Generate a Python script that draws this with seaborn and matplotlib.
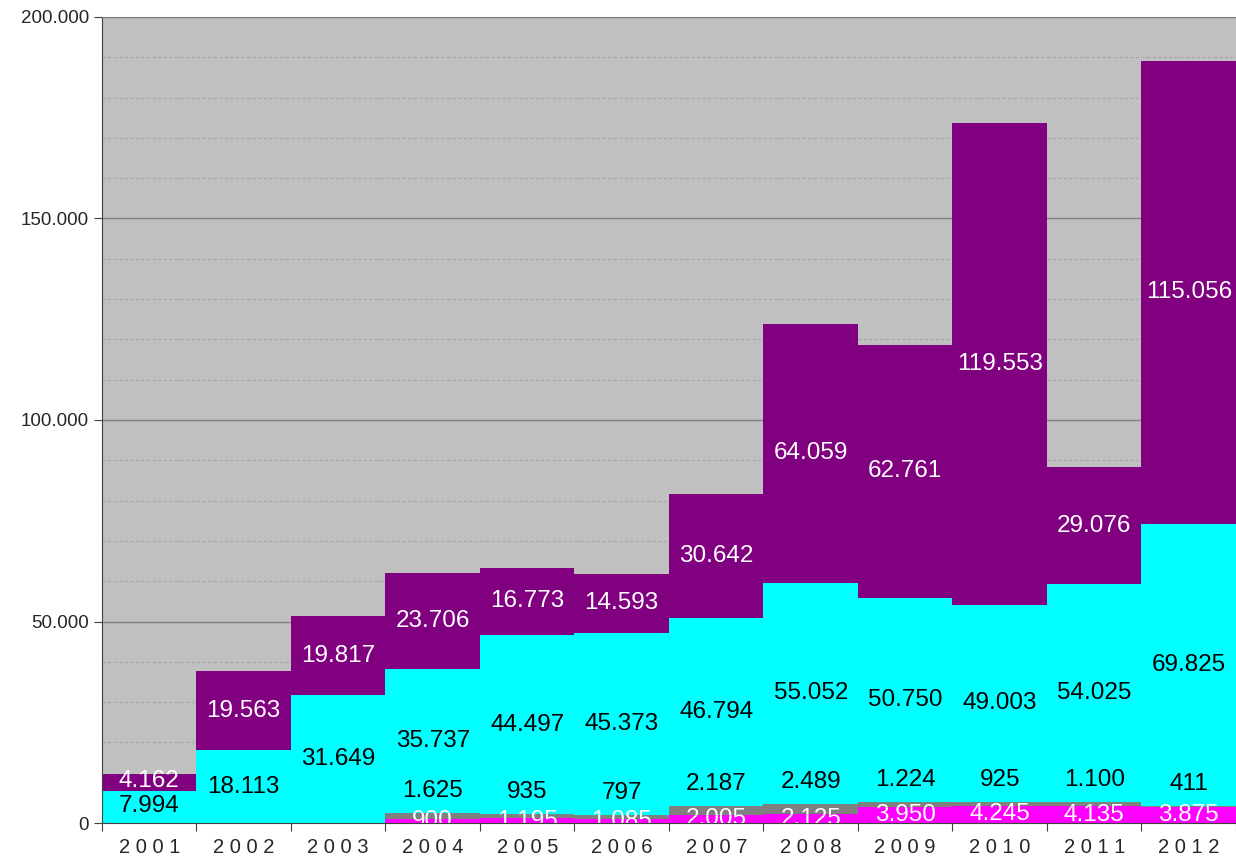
import numpy as np
import pandas as pd
import matplotlib
matplotlib.use("Agg")
import matplotlib.pyplot as plt
import seaborn as sns
from matplotlib.ticker import FuncFormatter, MultipleLocator

sns.set_style("ticks")
plt.rcParams["font.family"] = ["Liberation Sans", "DejaVu Sans"]

# data
years = ["2001", "2002", "2003", "2004", "2005", "2006",
         "2007", "2008", "2009", "2010", "2011", "2012"]
magenta_vals = [0, 0, 0, 900, 1195, 1085, 2005, 2125, 3950, 4245, 4135, 3875]
gray_vals = [0, 0, 0, 1625, 935, 797, 2187, 2489, 1224, 925, 1100, 411]
cyan_vals = [7994, 18113, 31649, 35737, 44497, 45373, 46794, 55052, 50750, 49003, 54025, 69825]
purple_vals = [4162, 19563, 19817, 23706, 16773, 14593, 30642, 64059, 62761, 119553, 29076, 115056]

series = [
    ("magenta", magenta_vals, "#FF00FF", "white"),
    ("gray", gray_vals, "#808080", "black"),
    ("cyan", cyan_vals, "#00FFFF", "black"),
    ("purple", purple_vals, "#800080", "white"),
]

df = pd.DataFrame({"year": years})
bottoms = {}
running = np.zeros(len(years))
for name, vals, _, _ in series:
    bottoms[name] = running.copy()
    running = running + np.array(vals)
    df[name + "_top"] = running

fig = plt.figure(figsize=(12.36, 8.61), dpi=100)
ax = fig.add_axes([0.0825, 0.0441, 0.9175, 0.9362])
ax.set_facecolor("#C0C0C0")

# stacked bars: draw cumulative totals from the top series down
for name, vals, color, _ in reversed(series):
    sns.barplot(data=df, x="year", y=name + "_top", color=color, width=1.0,
                saturation=1, linewidth=0, ax=ax, order=years)

# segment labels
for name, vals, color, tcolor in series:
    for i, v in enumerate(vals):
        if v == 0:
            continue
        if name == "gray":
            ypos = bottoms[name][i] + v + 5500
        elif name == "cyan" and i == 0:
            ypos = 4300
        elif name == "purple" and i == 0:
            ypos = bottoms[name][i] + v / 2 + 300
        else:
            ypos = bottoms[name][i] + v / 2
        ax.text(i, ypos, f"{v:,}".replace(",", "."), color=tcolor, fontsize=17.5,
                ha="center", va="center", clip_on=True)

ax.set_ylim(0, 200000)
ax.set_xlim(-0.5, 11.5)
ax.yaxis.set_major_locator(MultipleLocator(50000))
ax.yaxis.set_minor_locator(MultipleLocator(10000))
ax.yaxis.set_major_formatter(FuncFormatter(lambda v, p: f"{int(v):,}".replace(",", ".")))
ax.tick_params(axis="y", which="minor", length=0)
ax.tick_params(axis="y", which="major", labelsize=13.5, length=6, color="#404040")

ax.set_xticks(np.arange(-0.5, 12, 1))
ax.set_xticklabels([])
ax.set_xticks(np.arange(len(years)), minor=True)
ax.set_xticklabels([" ".join(y) for y in years], minor=True, fontsize=14.5)
ax.tick_params(axis="x", which="minor", length=0, pad=11)
ax.tick_params(axis="x", which="major", length=6, color="#404040")

ax.set_axisbelow(True)
ax.grid(axis="y", which="major", color="#808080", linewidth=1, linestyle="-")
ax.grid(axis="y", which="minor", color="#A8A8A8", linewidth=0.8, linestyle=(0, (3, 2)))

ax.spines["right"].set_visible(False)
ax.spines["top"].set_color("#808080")
ax.spines["left"].set_color("#404040")
ax.spines["bottom"].set_color("#404040")
ax.set_xlabel("")
ax.set_ylabel("")

fig.savefig("out.png", dpi=100)
